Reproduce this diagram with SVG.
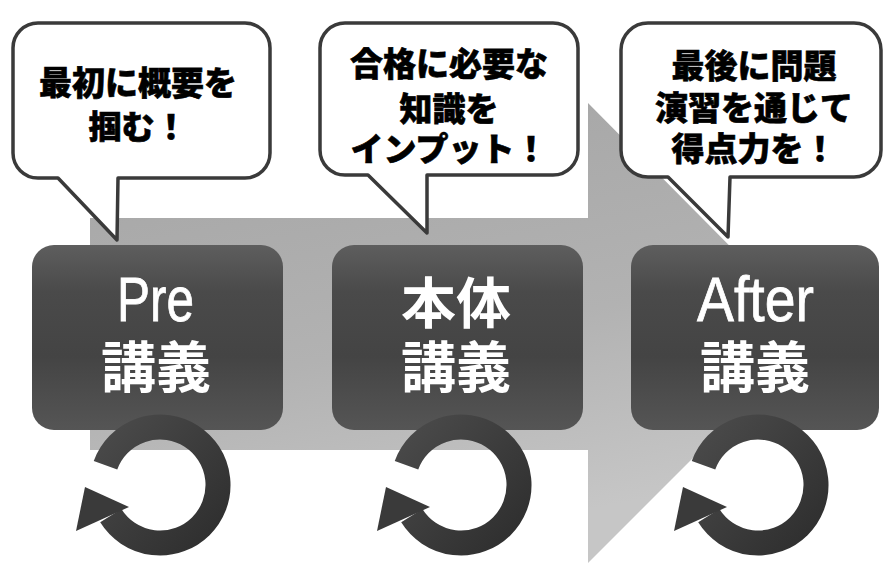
<svg xmlns="http://www.w3.org/2000/svg" xmlns:xlink="http://www.w3.org/1999/xlink" width="884" height="565" viewBox="0 0 884 565">
  <defs>
    <linearGradient id="bandGrad" x1="0" y1="0" x2="0.3" y2="1">
      <stop offset="0" stop-color="#a4a4a4"/>
      <stop offset="0.6" stop-color="#b2b2b2"/>
      <stop offset="1" stop-color="#c6c6c6"/>
    </linearGradient>
    <linearGradient id="boxGrad" x1="0" y1="0" x2="0" y2="1">
      <stop offset="0" stop-color="#5e5e5e"/>
      <stop offset="0.25" stop-color="#4a4a4a"/>
      <stop offset="0.6" stop-color="#444444"/>
      <stop offset="1" stop-color="#555555"/>
    </linearGradient>
    <linearGradient id="ringGrad" x1="0" y1="0" x2="1" y2="1">
      <stop offset="0" stop-color="#4a4a4a"/>
      <stop offset="1" stop-color="#2e2e2e"/>
    </linearGradient>
    <g id="ring">
      <path d="M 105.5 465.2 A 58 58 0 1 1 110.8 515.7" fill="none" stroke="url(#ringGrad)" stroke-width="25"/>
      <polygon points="85,487 76,531 129,507" fill="#3a3a3a"/>
    </g>
    <style>
      .bubble { fill: #ffffff; stroke: #3a3a3a; stroke-width: 3.5; stroke-linejoin: round; }
      .btxt { font-family: "Noto Sans CJK JP", "Noto Sans CJK SC", sans-serif; font-weight: 900; font-size: 33px; fill: #000; stroke: #000; stroke-width: 0.6; text-anchor: middle; }
      .box { fill: url(#boxGrad); }
      .en { font-family: "Liberation Sans", Arial, sans-serif; font-size: 63px; fill: #ffffff; stroke: #ffffff; stroke-width: 0.8; }
      .jp { font-family: "Noto Sans CJK JP", "Noto Sans CJK SC", sans-serif; font-weight: bold; font-size: 55px; fill: #ffffff; text-anchor: middle; }
    </style>
  </defs>

  <rect width="884" height="565" fill="#ffffff"/>

  <!-- background block arrow -->
  <polygon points="90,218 588,218 588,103 817,334 588,563 588,450 90,450" fill="url(#bandGrad)"/>

  <g id="box-pre">
    <rect class="box" x="32" y="245" width="251" height="185" rx="22"/>
    <text class="en" x="117" y="321" textLength="77" lengthAdjust="spacingAndGlyphs">Pre</text>
    <text class="jp" x="156" y="387">講義</text>
  </g>
  <g id="box-main">
    <rect class="box" x="332" y="245" width="251" height="185" rx="22"/>
    <text class="jp" x="456" y="323">本体</text>
    <text class="jp" x="456" y="387">講義</text>
  </g>
  <g id="box-after">
    <rect class="box" x="631" y="245" width="248" height="185" rx="22"/>
    <text class="en" x="697" y="321" textLength="117" lengthAdjust="spacingAndGlyphs">After</text>
    <text class="jp" x="755" y="387">講義</text>
  </g>

  <g id="connectors">
    <use xlink:href="#ring" href="#ring"/>
    <use xlink:href="#ring" href="#ring" transform="translate(301,0)"/>
    <use xlink:href="#ring" href="#ring" transform="translate(598,0)"/>
  </g>

  <g id="bubble-pre">
    <path class="bubble" d="M 38,23 H 245 A 25 25 0 0 1 270 48 V 153 A 25 25 0 0 1 245 178 H 118 L 117 240 L 58 178 H 38 A 25 25 0 0 1 13 153 V 48 A 25 25 0 0 1 38 23 Z"/>
    <text class="btxt" x="138" y="95">最初に概要を</text>
    <text class="btxt" x="138" y="139">掴む！</text>
  </g>
  <g id="bubble-main">
    <path class="bubble" d="M 345,23 H 553 A 25 25 0 0 1 578 48 V 150 A 25 25 0 0 1 553 175 H 427 L 427 233 L 368 175 H 345 A 25 25 0 0 1 320 150 V 48 A 25 25 0 0 1 345 23 Z"/>
    <text class="btxt" x="449" y="76">合格に必要な</text>
    <text class="btxt" x="449" y="121">知識を</text>
    <text class="btxt" x="449" y="161">インプット！</text>
  </g>
  <g id="bubble-after">
    <path class="bubble" d="M 648,23 H 854 A 27 27 0 0 1 881 50 V 150 A 27 27 0 0 1 854 177 H 730 L 728 237 L 668 177 H 648 A 27 27 0 0 1 621 150 V 50 A 27 27 0 0 1 648 23 Z"/>
    <text class="btxt" x="754" y="78">最後に問題</text>
    <text class="btxt" x="754" y="120">演習を通じて</text>
    <text class="btxt" x="754" y="161">得点力を！</text>
  </g>
</svg>
